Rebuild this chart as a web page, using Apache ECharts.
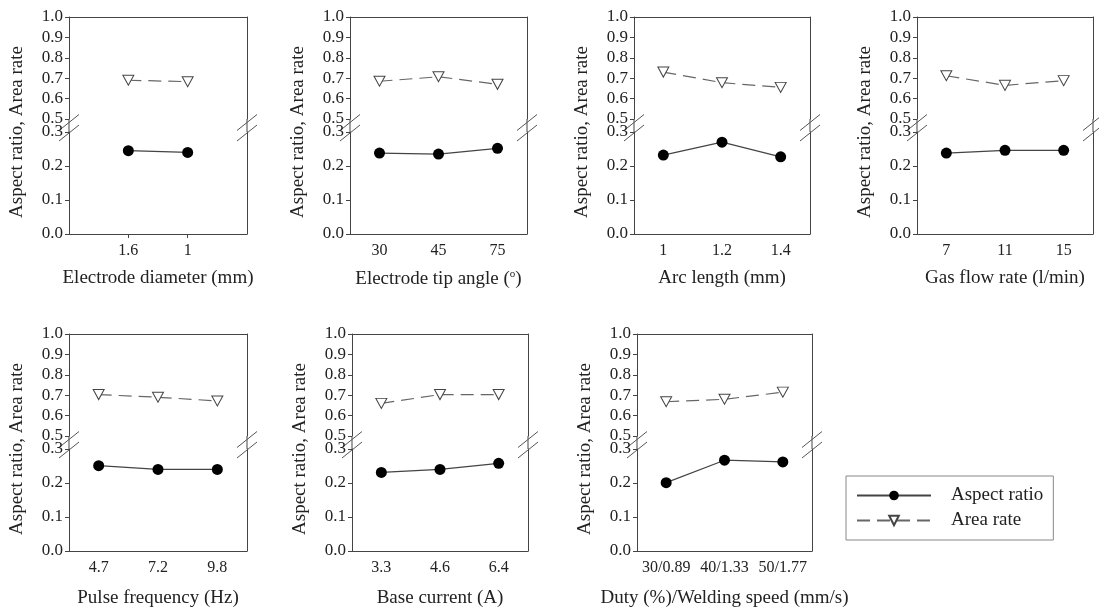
<!DOCTYPE html>
<html>
<head>
<meta charset="utf-8">
<script src="https://cdn.jsdelivr.net/npm/echarts@6/dist/echarts.min.js"></script>
<style>
  html, body { margin: 0; padding: 0; background: #fff; }
  #main { width: 1099px; height: 612px; }
</style>
</head>
<body>
<div id="main"></div>
<script>
// x-axis titles
const xNames = [
  'Electrode diameter (mm)',
  'Electrode tip angle ({sup|o})',
  'Arc length (mm)',
  'Gas flow rate (l/min)',
  'Pulse frequency (Hz)',
  'Base current (A)',
  'Duty (%)/Welding speed (mm/s)'
]

// categories per panel
const cats1 = ['1.6', '1']
const cats2 = ['30', '45', '75']
const cats3 = ['1', '1.2', '1.4']
const cats4 = ['7', '11', '15']
const cats5 = ['4.7', '7.2', '9.8']
const cats6 = ['3.3', '4.6', '6.4']
const cats7 = ['30/0.89', '40/1.33', '50/1.77']

// Aspect ratio (lower part of broken axis)
const aspect1 = [0.245, 0.240]
const aspect2 = [0.238, 0.235, 0.252]
const aspect3 = [0.232, 0.270, 0.227]
const aspect4 = [0.238, 0.246, 0.246]
const aspect5 = [0.251, 0.240, 0.240]
const aspect6 = [0.231, 0.240, 0.258]
const aspect7 = [0.201, 0.267, 0.262]

// Area rate (upper part of broken axis)
const area1 = [0.690, 0.683]
const area2 = [0.685, 0.707, 0.670]
const area3 = [0.730, 0.678, 0.655]
const area4 = [0.712, 0.665, 0.688]
const area5 = [0.703, 0.690, 0.672]
const area6 = [0.660, 0.703, 0.703]
const area7 = [0.668, 0.680, 0.715]

const upperTicks = [0.5, 1.0]
const lowerTicks = [0.0, 0.3]

const categories = [cats1, cats2, cats3, cats4, cats5, cats6, cats7]
const aspects = [aspect1, aspect2, aspect3, aspect4, aspect5, aspect6, aspect7]
const areas = [area1, area2, area3, area4, area5, area6, area7]

// panel boxes (left, top, width)
const panels = [
  { L: 69, T: 17, W: 178, gap: 35 },
  { L: 350, T: 17, W: 177, gap: 35 },
  { L: 634, T: 17, W: 176, gap: 35 },
  { L: 917, T: 17, W: 176, gap: 35 },
  { L: 69, T: 334, W: 178, gap: 38 },
  { L: 352, T: 334, W: 176, gap: 38 },
  { L: 637, T: 334, W: 175, gap: 38 }
]

const FONT = 'Liberation Serif'
const TEXT = '#222'
const AXIS = '#444'
const H = 102
const GAP = 13
const triangle = 'path://M0,0L10,0L5,9Z'

const chart = echarts.init(document.getElementById('main'))

const grid = []
const xAxis = []
const yAxis = []
const series = []
const graphic = []

const line = { show: true, lineStyle: { color: AXIS, width: 1 } }

const valueAxis = (gridIndex, range, left) => ({
  type: 'value',
  gridIndex,
  position: left ? 'left' : 'right',
  min: range[0],
  max: range[1],
  interval: 0.1,
  axisLine: line,
  axisTick: { show: left, length: 4, lineStyle: { color: AXIS } },
  axisLabel: {
    show: left,
    margin: 6,
    fontFamily: FONT,
    fontSize: 17,
    color: TEXT,
    formatter: v => v.toFixed(1)
  },
  splitLine: { show: false }
})

const breakMark = (x, y) => ({
  type: 'line',
  shape: { x1: x - 10, y1: y + 8, x2: x + 10, y2: y - 8 },
  style: { stroke: '#555', lineWidth: 1 },
  silent: true
})

panels.forEach((p, i) => {
  const cats = categories[i]
  const spread = cats.length > 2
  const axisCats = spread ? cats : ['', ...cats, ' ']
  const gu = 2 * i
  const gl = 2 * i + 1

  grid.push({ left: p.L, top: p.T, width: p.W, height: H })
  grid.push({ left: p.L, top: p.T + H + GAP, width: p.W, height: H })

  xAxis.push({
    type: 'category',
    gridIndex: gu,
    position: 'top',
    data: axisCats,
    boundaryGap: spread,
    axisLine: line,
    axisTick: { show: false },
    axisLabel: { show: false }
  })
  xAxis.push({
    type: 'category',
    gridIndex: gl,
    position: 'bottom',
    data: axisCats,
    boundaryGap: spread,
    axisLine: line,
    axisTick: {
      alignWithLabel: true,
      length: 4,
      lineStyle: { color: AXIS },
      interval: spread ? 0 : idx => idx === 1 || idx === 2
    },
    axisLabel: { interval: 0, margin: 9, fontFamily: FONT, fontSize: 16, color: TEXT },
    name: xNames[i],
    nameLocation: 'middle',
    nameGap: p.gap,
    nameTextStyle: {
      fontFamily: FONT,
      fontSize: 19,
      color: TEXT,
      rich: { sup: { fontFamily: FONT, fontSize: 11, color: TEXT, padding: [0, 0, 9, 0] } }
    }
  })

  yAxis.push(valueAxis(gu, upperTicks, true))
  yAxis.push(valueAxis(gu, upperTicks, false))
  yAxis.push(valueAxis(gl, lowerTicks, true))
  yAxis.push(valueAxis(gl, lowerTicks, false))

  series.push({
    name: 'Aspect ratio',
    type: 'line',
    xAxisIndex: gl,
    yAxisIndex: 4 * i + 2,
    data: cats.map((c, k) => [c, aspects[i][k]]),
    symbol: 'circle',
    symbolSize: 11,
    itemStyle: { color: '#000' },
    lineStyle: { color: '#444', width: 1.2 }
  })
  series.push({
    name: 'Area rate',
    type: 'line',
    xAxisIndex: gu,
    yAxisIndex: 4 * i,
    data: cats.map((c, k) => [c, areas[i][k]]),
    symbol: triangle,
    symbolSize: [11, 10],
    itemStyle: { color: '#fff', borderColor: '#444', borderWidth: 1 },
    lineStyle: { color: '#666', width: 1.2, type: [13, 7] }
  })

  // frame continues through the break, with the break marks on both sides
  const yb = p.T + H
  graphic.push({ type: 'line', shape: { x1: p.L, y1: yb, x2: p.L, y2: yb + GAP }, style: { stroke: AXIS, lineWidth: 1 } })
  graphic.push({ type: 'line', shape: { x1: p.L + p.W, y1: yb, x2: p.L + p.W, y2: yb + GAP }, style: { stroke: AXIS, lineWidth: 1 } })
  ;[p.L, p.L + p.W].forEach(x => {
    graphic.push(breakMark(x, yb + 3.5))
    graphic.push(breakMark(x, yb + 14))
  })

  graphic.push({
    type: 'text',
    x: p.L - 52,
    y: p.T + 115,
    rotation: Math.PI / 2,
    style: {
      text: 'Aspect ratio, Area rate',
      fontFamily: FONT,
      fontSize: 19,
      fill: TEXT,
      align: 'center',
      verticalAlign: 'middle'
    }
  })
})

chart.setOption({
  backgroundColor: '#fff',
  animation: false,
  grid,
  xAxis,
  yAxis,
  series,
  graphic,
  legend: {
    data: ['Aspect ratio', 'Area rate'],
    orient: 'vertical',
    left: 846,
    top: 476,
    itemWidth: 74,
    itemHeight: 12,
    itemGap: 6,
    padding: [10, 10, 10, 10],
    borderColor: '#888',
    borderWidth: 1,
    textStyle: { fontFamily: FONT, fontSize: 19, color: TEXT, padding: [0, 0, 0, 15] }
  }
})
</script>
</body>
</html>
